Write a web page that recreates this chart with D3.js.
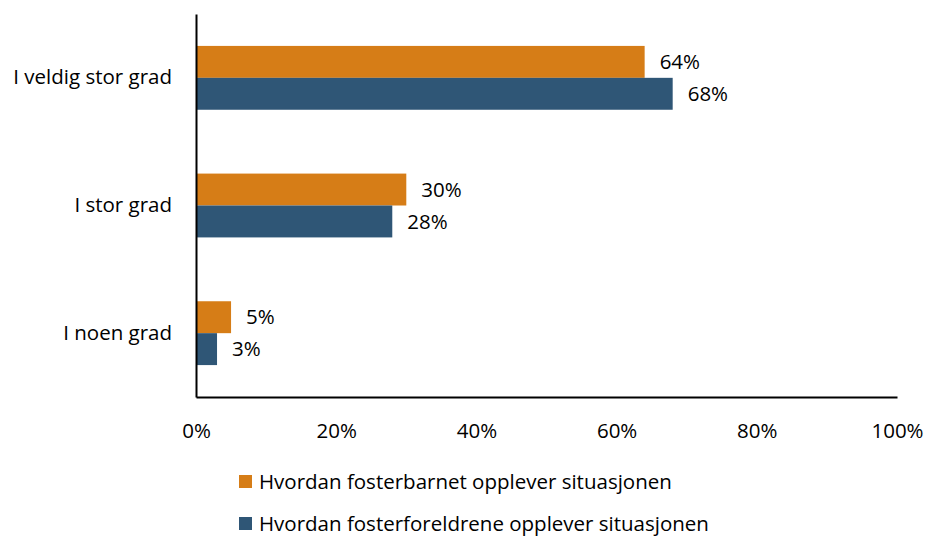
<!DOCTYPE html>
<html>
<head>
<meta charset="utf-8">
<script src="https://cdn.jsdelivr.net/npm/d3@7"></script>
<style>
body { margin: 0; background: #fff; }
text { font-family: 'Open Sans', sans-serif; fill: #000; }
</style>
</head>
<body>
<svg></svg>
<script>
var categories = ['I veldig stor grad', 'I stor grad', 'I noen grad']
var seriesNames = ['Hvordan fosterbarnet opplever situasjonen', 'Hvordan fosterforeldrene opplever situasjonen']
var barnValues = [64, 30, 5]
var foreldreValues = [68, 28, 3]
var ticks = [0, 20, 40, 60, 80, 100]
var colors = ['#d67d17', '#2f5676']

var width = 927, height = 538
var fontSize = '20.5px'
var svg = d3.select('svg').attr('width', width).attr('height', height)

var x = d3.scaleLinear().domain([0, 100]).range([196, 897])
var y = d3.scaleBand().domain(categories).range([14, 397]).paddingInner(0.5).paddingOuter(0.25)
var sub = d3.scaleBand().domain([0, 1]).range([0, y.bandwidth()])

var series = [barnValues, foreldreValues]

// bars and value labels
series.forEach(function(vals, si) {
	svg.append('g').selectAll('rect')
		.data(vals)
		.enter().append('rect')
		.attr('x', x(0))
		.attr('y', function(d, i) {return y(categories[i]) + sub(si)})
		.attr('width', function(d) {return x(d) - x(0)})
		.attr('height', sub.bandwidth())
		.attr('fill', colors[si])

	svg.append('g').selectAll('text')
		.data(vals)
		.enter().append('text')
		.attr('x', function(d) {return x(d) + 15})
		.attr('y', function(d, i) {return y(categories[i]) + sub(si) + sub.bandwidth() / 2})
		.attr('dy', '0.35em')
		.style('font-size', fontSize)
		.text(function(d) {return d + '%'})
})

// axes
var xAxis = svg.append('g').attr('transform', 'translate(0,397)')
	.call(d3.axisBottom(x).tickValues(ticks).tickSize(0).tickPadding(26).tickFormat(function(d) {return d + '%'}))
xAxis.select('.domain').attr('stroke', '#000').attr('stroke-width', 2)
xAxis.selectAll('text').style('font-size', fontSize).attr('font-family', null)

var yAxis = svg.append('g').attr('transform', 'translate(196,0)')
	.call(d3.axisLeft(y).tickSize(0).tickPadding(24))
yAxis.select('.domain').attr('stroke', '#000').attr('stroke-width', 2)
yAxis.selectAll('text').style('font-size', fontSize).attr('font-family', null)

// legend
var legend = svg.append('g').selectAll('g')
	.data(seriesNames)
	.enter().append('g')
	.attr('transform', function(d, i) {return 'translate(239,' + (475 + i * 42) + ')'})
legend.append('rect').attr('width', 13).attr('height', 13).attr('fill', function(d, i) {return colors[i]})
legend.append('text').attr('x', 20).attr('y', 7).attr('dy', '0.35em')
	.style('font-size', fontSize)
	.text(function(d) {return d})
</script>
</body>
</html>
